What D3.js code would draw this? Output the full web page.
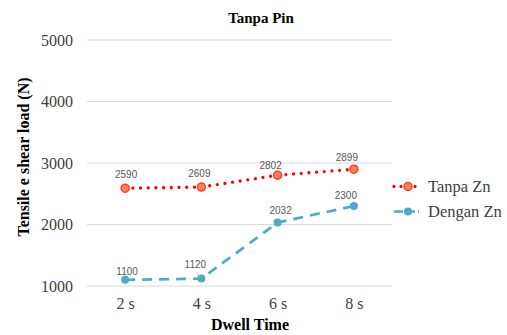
<!DOCTYPE html>
<html><head><meta charset="utf-8">
<script src="https://cdn.jsdelivr.net/npm/d3@7"></script>
<style>body{margin:0;background:#fff}svg{display:block}</style>
</head><body>
<script>
const categories = ["2 s", "4 s", "6 s", "8 s"];
const tanpaZn = [2590, 2609, 2802, 2899];
const denganZn = [1100, 1120, 2032, 2300];
const yTicks = [1000, 2000, 3000, 4000, 5000];
const seriesNames = ["Tanpa Zn", "Dengan Zn"];

const W = 507, H = 335;
const SERIF = "Liberation Serif";
const SANS = "Liberation Sans";
const svg = d3.select("body").append("svg").attr("width", W).attr("height", H);
const x = d3.scalePoint().domain(categories).range([87, 392]).padding(0.5);
const y = d3.scaleLinear().domain([1000, 5000]).range([286, 40]);

// gridlines
svg.append("g").selectAll("line").data(yTicks).join("line")
  .attr("x1", 87).attr("x2", 392).attr("y1", d => y(d)).attr("y2", d => y(d))
  .attr("stroke", "#d9d9d9").attr("stroke-width", 1);

// y axis
const ya = svg.append("g").attr("transform", "translate(87,0)")
  .call(d3.axisLeft(y).tickValues(yTicks).tickSize(0).tickPadding(14).tickFormat(d3.format("d")));
ya.attr("font-family", SERIF).attr("font-size", 16);
ya.select(".domain").remove();
ya.selectAll("text").attr("fill", "#404040");

// x axis
const xa = svg.append("g").attr("transform", "translate(0,286)")
  .call(d3.axisBottom(x).tickSize(0).tickPadding(12));
xa.attr("font-family", SERIF).attr("font-size", 16);
xa.select(".domain").remove();
xa.selectAll("text").attr("fill", "#404040");

// titles
svg.append("text").attr("font-family", SERIF).attr("x", 261).attr("y", 23).attr("text-anchor", "middle")
  .attr("font-weight", "bold").attr("font-size", 15).text("Tanpa Pin");
svg.append("text").attr("font-family", SERIF).attr("x", 250).attr("y", 330).attr("text-anchor", "middle")
  .attr("font-weight", "bold").attr("font-size", 16).text("Dwell Time");
svg.append("text").attr("font-family", SERIF).attr("transform", "translate(29,157) rotate(-90)").attr("text-anchor", "middle")
  .attr("font-weight", "bold").attr("font-size", 16).text("Tensile e shear load (N)");

const line = d3.line().x((d, i) => x(categories[i])).y(d => y(d));

// Dengan Zn
svg.append("path").datum(denganZn).attr("d", line).attr("fill", "none")
  .attr("stroke", "#4bacc6").attr("stroke-width", 2.7).attr("stroke-dasharray", "10,7");
svg.append("g").selectAll("circle").data(denganZn).join("circle")
  .attr("cx", (d, i) => x(categories[i])).attr("cy", d => y(d)).attr("r", 4)
  .attr("fill", "#4bacc6");
// Tanpa Zn
svg.append("path").datum(tanpaZn).attr("d", line).attr("fill", "none")
  .attr("stroke", "#ff0000").attr("stroke-width", 3.3).attr("stroke-linecap", "round").attr("stroke-dasharray", "0,7.7");
svg.append("g").selectAll("circle").data(tanpaZn).join("circle")
  .attr("cx", (d, i) => x(categories[i])).attr("cy", d => y(d)).attr("r", 4)
  .attr("fill", "#f4874b").attr("stroke", "#ff3b2f").attr("stroke-width", 1.5);

// data labels
function labels(data, dy, dx) {
  svg.append("g").selectAll("text").data(data).join("text").attr("font-family", SANS)
    .attr("x", (d, i) => x(categories[i]) + dx[i]).attr("y", (d, i) => y(d) + dy[i])
    .attr("text-anchor", "middle").attr("font-size", 10)
    .attr("fill", "#595959").text(d => d);
}
labels(tanpaZn, [-10, -10, -6, -8.5], [1, -2, -7, -7]);
labels(denganZn, [-5, -10.5, -8.5, -7], [2, -6, 3, -8]);
svg.append("line").attr("x1", x("4 s") - 5).attr("y1", y(1120) - 6).attr("x2", x("4 s") - 1).attr("y2", y(1120) - 2)
  .attr("stroke", "#a6a6a6").attr("stroke-width", 0.8);

// legend
const lg = svg.append("g");
const lx = 394, ly = [186.5, 211.5];
lg.append("line").attr("x1", lx).attr("x2", lx + 26).attr("y1", ly[0]).attr("y2", ly[0])
  .attr("stroke", "#ff0000").attr("stroke-width", 3.3).attr("stroke-linecap", "round").attr("stroke-dasharray", "0,7");
lg.append("circle").attr("cx", lx + 14).attr("cy", ly[0]).attr("r", 4)
  .attr("fill", "#f4874b").attr("stroke", "#ff3b2f").attr("stroke-width", 1.5);
lg.append("line").attr("x1", lx).attr("x2", lx + 25).attr("y1", ly[1]).attr("y2", ly[1])
  .attr("stroke", "#4bacc6").attr("stroke-width", 2.7).attr("stroke-dasharray", "9,3");
lg.append("circle").attr("cx", lx + 14).attr("cy", ly[1]).attr("r", 4).attr("fill", "#4bacc6");
lg.selectAll("text").data(seriesNames).join("text").attr("font-family", SERIF)
  .attr("x", 428).attr("y", (d, i) => ly[i] + 5.5)
  .attr("font-size", 16.5).attr("fill", "#404040").text(d => d);
</script>
</body></html>
